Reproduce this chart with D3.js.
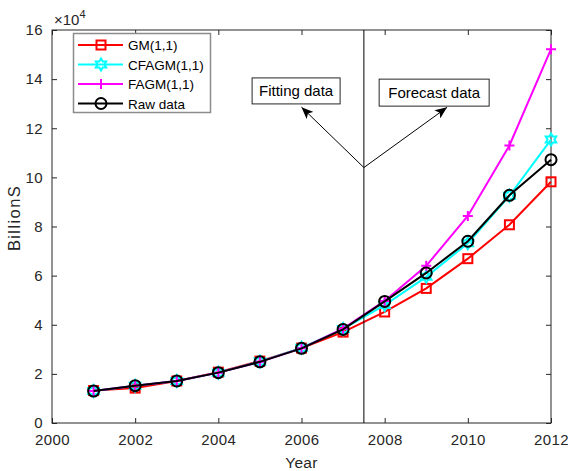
<!DOCTYPE html>
<html>
<head>
<meta charset="utf-8">
<script src="https://cdn.jsdelivr.net/npm/d3@7"></script>
<style>
  body { margin: 0; background: #fff; }
  text { font-family: "Liberation Sans", Arial, sans-serif; }
</style>
</head>
<body>
<script>
var svgWidth = 568;
var svgHeight = 471;

var margin = { top: 30, right: 17, bottom: 48, left: 52 };
var width = svgWidth - margin.left - margin.right;
var height = svgHeight - margin.top - margin.bottom;

// data (values in units of 10^4)
var years = [2001, 2002, 2003, 2004, 2005, 2006, 2007, 2008, 2009, 2010, 2011, 2012];
var gm    = [1.32, 1.42, 1.71, 2.07, 2.52, 3.05, 3.70, 4.52, 5.48, 6.69, 8.07, 9.82];
var cfagm = [1.30, 1.52, 1.71, 2.05, 2.50, 3.06, 3.83, 4.80, 5.95, 7.32, 9.25, 11.54];
var fagm  = [1.30, 1.52, 1.71, 2.05, 2.49, 3.04, 3.84, 4.97, 6.40, 8.43, 11.30, 15.22];
var raw   = [1.30, 1.52, 1.71, 2.05, 2.49, 3.04, 3.81, 4.95, 6.11, 7.40, 9.27, 10.72];

var xTicks = [2000, 2002, 2004, 2006, 2008, 2010, 2012];
var yTicks = [0, 2, 4, 6, 8, 10, 12, 14, 16];

var seriesNames = ["GM(1,1)", "CFAGM(1,1)", "FAGM(1,1)", "Raw data"];
var seriesColors = ["#ff0000", "#00ffff", "#ff00ff", "#000000"];
var seriesMarkers = ["square", "hexagram", "plus", "circle"];
var seriesValues = [gm, cfagm, fagm, raw];

// split line + annotation anchor points (data coords)
var splitYear = 2007.5;
var apex = [2007.5, 10.4];
var fitTip = [2006.0, 12.86];
var foreTip = [2009.5, 12.85];

var svg = d3.select("body").append("svg")
  .attr("width", svgWidth)
  .attr("height", svgHeight);

var chartGroup = svg.append("g")
  .attr("transform", `translate(${margin.left}, ${margin.top})`);

var x = d3.scaleLinear().domain([2000, 2012]).range([0, width]);
var y = d3.scaleLinear().domain([0, 16]).range([height, 0]);

var axisColor = "#262626";

function styleAxis(g) {
  g.select(".domain").remove();
  g.selectAll(".tick line").attr("stroke", axisColor);
  g.selectAll(".tick text").attr("fill", axisColor)
    .style("font-size", "15px").style("letter-spacing", "0.4px");
}

chartGroup.append("g")
  .attr("transform", `translate(0, ${height})`)
  .call(d3.axisBottom(x).tickValues(xTicks).tickFormat(d3.format("d")).tickSize(-5).tickPadding(11))
  .call(styleAxis);

chartGroup.append("g")
  .call(d3.axisTop(x).tickValues(xTicks).tickFormat("").tickSize(-5))
  .call(styleAxis);

chartGroup.append("g")
  .call(d3.axisLeft(y).tickValues(yTicks).tickSize(-5).tickPadding(9))
  .call(styleAxis);

chartGroup.append("g")
  .attr("transform", `translate(${width}, 0)`)
  .call(d3.axisRight(y).tickValues(yTicks).tickFormat("").tickSize(-5))
  .call(styleAxis);

// box
chartGroup.append("rect")
  .attr("x", 0).attr("y", 0)
  .attr("width", width).attr("height", height)
  .attr("fill", "none")
  .attr("stroke", axisColor)
  .attr("stroke-width", 1);

// exponent label
var expo = svg.append("text")
  .attr("x", margin.left + 2)
  .attr("y", margin.top - 5)
  .attr("fill", axisColor)
  .style("font-size", "15px");
expo.append("tspan").text("\u00d710");
expo.append("tspan").attr("dy", -7).style("font-size", "11px").text("4");

// axis titles
svg.append("text")
  .attr("x", margin.left + width / 2)
  .attr("y", 468)
  .attr("text-anchor", "middle")
  .attr("fill", axisColor)
  .style("font-size", "15.5px")
  .style("letter-spacing", "0.3px")
  .text("Year");

svg.append("text")
  .attr("transform", `translate(20, 218) rotate(-90)`)
  .attr("text-anchor", "middle")
  .attr("fill", axisColor)
  .style("font-size", "16.5px")
  .style("letter-spacing", "1.4px")
  .text("BillionS");

// marker drawing
function hexagramPath(r) {
  var pts = [];
  for (var i = 0; i < 12; i++) {
    var a = -Math.PI / 2 + i * Math.PI / 6;
    var rr = (i % 2 == 0) ? r : r / Math.sqrt(3);
    pts.push([rr * Math.cos(a), rr * Math.sin(a)]);
  }
  return "M" + pts.map(p => p.join(",")).join("L") + "Z";
}

function drawMarker(g, type, color, cx, cy) {
  if (type == "square") {
    g.append("rect")
      .attr("x", cx - 4.5).attr("y", cy - 4.5)
      .attr("width", 9).attr("height", 9)
      .attr("fill", "none").attr("stroke", color).attr("stroke-width", 2);
  } else if (type == "hexagram") {
    g.append("path")
      .attr("d", hexagramPath(6))
      .attr("transform", `translate(${cx}, ${cy})`)
      .attr("fill", "none").attr("stroke", color).attr("stroke-width", 2);
  } else if (type == "plus") {
    g.append("path")
      .attr("d", "M-5,0H5M0,-5V5")
      .attr("transform", `translate(${cx}, ${cy})`)
      .attr("fill", "none").attr("stroke", color).attr("stroke-width", 2);
  } else {
    g.append("circle")
      .attr("cx", cx).attr("cy", cy).attr("r", 5.5)
      .attr("fill", "none").attr("stroke", color).attr("stroke-width", 2);
  }
}

var line = d3.line()
  .x(d => x(d[0]))
  .y(d => y(d[1]));

seriesValues.forEach(function (vals, i) {
  var pts = years.map((yr, j) => [yr, vals[j]]);
  var g = chartGroup.append("g");
  g.append("path")
    .attr("d", line(pts))
    .attr("fill", "none")
    .attr("stroke", seriesColors[i])
    .attr("stroke-width", 2);
  pts.forEach(function (p) {
    drawMarker(g, seriesMarkers[i], seriesColors[i], x(p[0]), y(p[1]));
  });
});

// split line
chartGroup.append("line")
  .attr("x1", x(splitYear)).attr("x2", x(splitYear))
  .attr("y1", y(0)).attr("y2", y(16))
  .attr("stroke", "#000").attr("stroke-width", 1);

// arrows
var defs = svg.append("defs");
defs.append("marker")
  .attr("id", "arrowhead")
  .attr("viewBox", "0 0 12 10")
  .attr("refX", 12).attr("refY", 5)
  .attr("markerWidth", 12).attr("markerHeight", 10)
  .attr("markerUnits", "userSpaceOnUse")
  .attr("orient", "auto")
  .append("path")
  .attr("d", "M0,0 L12,5 L0,10 L3,5 Z")
  .attr("fill", "#000");

[fitTip, foreTip].forEach(function (tip) {
  chartGroup.append("line")
    .attr("x1", x(apex[0])).attr("y1", y(apex[1]))
    .attr("x2", x(tip[0])).attr("y2", y(tip[1]))
    .attr("stroke", "#000").attr("stroke-width", 1)
    .attr("marker-end", "url(#arrowhead)");
});

// annotation boxes
var boxes = [
  { label: "Fitting data", cx: 2005.87, cy: 13.52, w: 88, h: 26 },
  { label: "Forecast data", cx: 2009.19, cy: 13.45, w: 110, h: 27 }
];
boxes.forEach(function (b) {
  var bx = x(b.cx), by = y(b.cy);
  chartGroup.append("rect")
    .attr("x", bx - b.w / 2).attr("y", by - b.h / 2)
    .attr("width", b.w).attr("height", b.h)
    .attr("fill", "#fff").attr("stroke", "#262626").attr("stroke-width", 1);
  chartGroup.append("text")
    .attr("x", bx).attr("y", by + 5.5)
    .attr("text-anchor", "middle")
    .attr("fill", "#000")
    .style("font-size", "15px")
    .text(b.label);
});

// legend
var legend = svg.append("g");
legend.append("rect")
  .attr("x", 73.5).attr("y", 33.5)
  .attr("width", 137).attr("height", 79)
  .attr("fill", "#fff").attr("stroke", "#8c8c8c").attr("stroke-width", 1.5);

seriesNames.forEach(function (name, i) {
  var ly = 45 + i * 19.5;
  legend.append("line")
    .attr("x1", 78).attr("x2", 123)
    .attr("y1", ly).attr("y2", ly)
    .attr("stroke", seriesColors[i]).attr("stroke-width", 2);
  drawMarker(legend, seriesMarkers[i], seriesColors[i], 101, ly);
  legend.append("text")
    .attr("x", 128).attr("y", ly + 5)
    .attr("fill", "#000")
    .style("font-size", "13.5px")
    .text(name);
});
</script>
</body>
</html>
